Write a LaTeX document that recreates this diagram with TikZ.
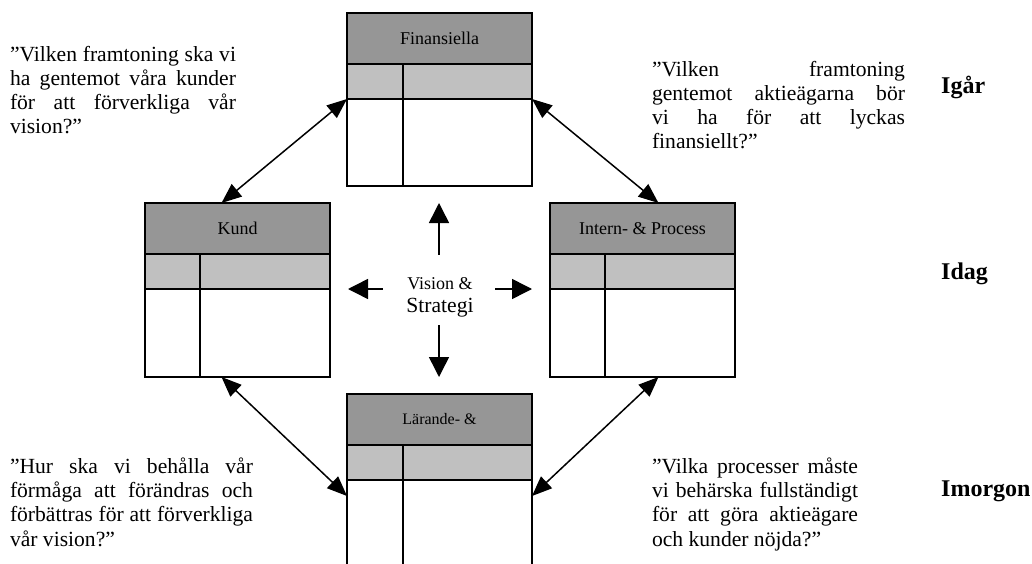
\documentclass[tikz,border=0pt]{standalone}
\usepackage{fontspec}
\setmainfont{Liberation Serif}
\usetikzlibrary{arrows.meta}

\definecolor{headgray}{HTML}{969696}
\definecolor{subgray}{HTML}{C0C0C0}

\tikzset{
  cell/.style={draw=black, line width=1.8pt, inner sep=0pt, outer sep=0pt,
    anchor=north west, minimum width=185pt},
  headcell/.style={cell, fill=headgray, minimum height=51pt,
    font=\fontsize{18}{20}\selectfont},
  subcell/.style={cell, fill=subgray, minimum height=35pt},
  bodycell/.style={cell, fill=white},
  divider/.style={line width=1.8pt},
  dblarrow/.style={{Triangle[length=20pt,width=16pt]}-{Triangle[length=20pt,width=16pt]},
    line width=1.5pt},
  centarrow/.style={-{Triangle[length=20pt,width=20pt]}, line width=1.5pt},
  question/.style={inner sep=0pt, outer sep=0pt, anchor=base west, align=left,
    font=\fontsize{21.6}{24.3}\selectfont},
  timelabel/.style={inner sep=0pt, anchor=base west,
    font=\fontsize{24}{26}\selectfont\bfseries},
}

% one perspective table: name, left, top, divider offset, body height, label
\newcommand{\perspbox}[6]{%
  \node[headcell] (#1-head) at (#2,#3) {#6};
  \node[subcell] (#1-sub) at (#1-head.south west) {};
  \node[bodycell, minimum height=#5] (#1-body) at (#1-sub.south west) {};
  \draw[divider] ([xshift=#4]#1-sub.north west) -- ([xshift=#4]#1-body.south west);
}

% a justified line of given width
\newcommand{\jl}[2]{\makebox[#1][s]{#2}}

\begin{document}
\begin{tikzpicture}[x=1pt, y=-1pt]
  \useasboundingbox (0,0) rectangle (1032,564);
  \fill[white] (0,0) rectangle (1032,564);

  % the four perspectives
  \perspbox{fin}{347}{13}{56pt}{87pt}{Finansiella}
  \perspbox{kund}{145}{203}{55pt}{88pt}{Kund}
  \perspbox{int}{550}{203}{55pt}{88pt}{Intern- \& Process}
  \perspbox{lar}{347}{394}{56pt}{95pt}{\fontsize{16}{18}\selectfont Lärande- \&}

  % centre: frame that the four arrows start from, and its text
  \node[inner sep=0pt, minimum width=112pt, minimum height=70pt] (vis) at (439,292) {};
  \node[inner sep=0pt, align=center, font=\fontsize{21.6}{23}\selectfont] (vistext) at (440,297)
    {{\fontsize{18}{22}\selectfont Vision \&}\\Strategi};
  \coordinate (vup) at (439,203);
  \coordinate (vdown) at (439,377);
  \coordinate (vleft) at (348,289);
  \coordinate (vright) at (532,289);
  \draw[centarrow] ([yshift=2pt]vis.north) -- (vup);
  \draw[centarrow] ([yshift=2pt]vis.south) -- (vdown);
  \draw[centarrow] ([yshift=3pt]vis.west) -- (vleft);
  \draw[centarrow] ([yshift=3pt]vis.east) -- (vright);

  % links between the perspectives
  \draw[dblarrow] (fin-body.north west) -- ([xshift=-16pt]kund-head.north);
  \draw[dblarrow] (fin-body.north east) -- ([xshift=16pt]int-head.north);
  \draw[dblarrow] ([xshift=-16pt]kund-body.south) -- ([yshift=-16pt]lar-body.north west);
  \draw[dblarrow] ([xshift=16pt]int-body.south) -- ([yshift=-16pt]lar-body.north east);

  % questions (anchored at the baseline of their last line)
  \node[question] (qkund) at (10,134) {%
    \jl{226pt}{”Vilken framtoning ska vi}\\
    \jl{226pt}{ha gentemot våra kunder}\\
    \jl{226pt}{för att förverkliga vår}\\
    vision?”};
  \node[question] (qfin) at (652,149) {%
    \jl{253pt}{”Vilken framtoning}\\
    \jl{253pt}{gentemot aktieägarna bör}\\
    \jl{253pt}{vi ha för att lyckas}\\
    finansiellt?”};
  \node[question] (qlar) at (10,546) {%
    \jl{243pt}{”Hur ska vi behålla vår}\\
    \jl{243pt}{förmåga att förändras och}\\
    \jl{243pt}{förbättras för att förverkliga}\\
    vår vision?”};
  \node[question] (qint) at (652,546) {%
    \jl{206pt}{”Vilka processer måste}\\
    \jl{206pt}{vi behärska fullständigt}\\
    \jl{206pt}{för att göra aktieägare}\\
    och kunder nöjda?”};

  % time axis
  \node[timelabel] (igar) at (941,94) {Igår};
  \node[timelabel] (idag) at (941,279) {Idag};
  \node[timelabel] (imorgon) at (941,496) {Imorgon};
\end{tikzpicture}
\end{document}
